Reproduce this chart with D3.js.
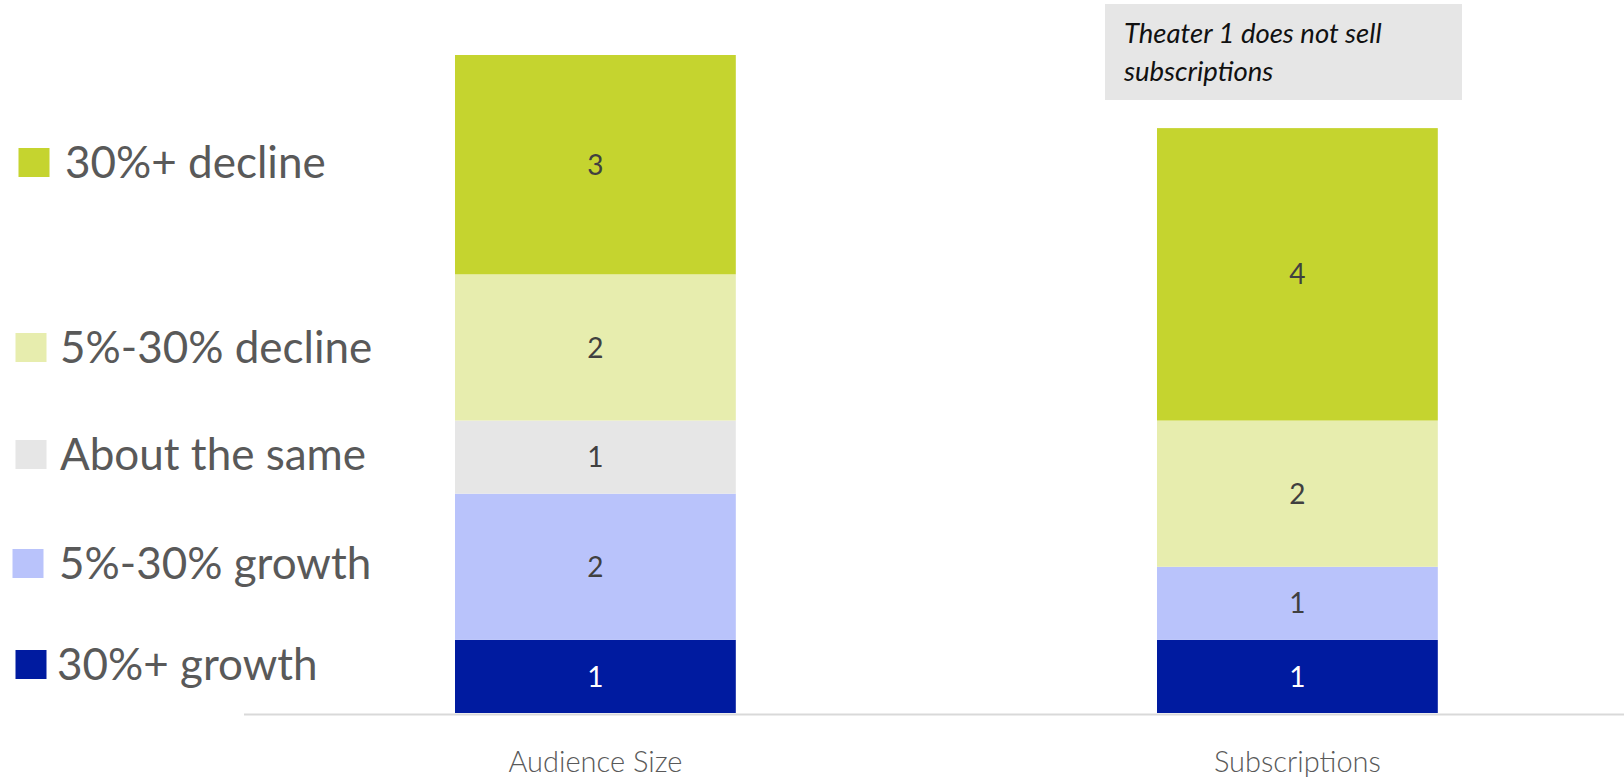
<!DOCTYPE html>
<html>
<head>
<meta charset="utf-8">
<script src="https://cdn.jsdelivr.net/npm/d3@7"></script>
<style>
  html, body { margin: 0; padding: 0; background: #fff; }
  svg { display: block; }
</style>
</head>
<body>
<svg id="chart" width="1624" height="780"></svg>
<script>
// Categories along the x axis
const categories = ["Audience Size", "Subscriptions"];

// Change buckets, stacked bottom to top
const buckets = ["30%+ growth", "5%-30% growth", "About the same", "5%-30% decline", "30%+ decline"];
const bucketColors = ["#001ba0", "#b9c3fb", "#e6e6e6", "#e7edae", "#c5d42f"];

// Number of theaters per bucket, one entry per category
const growth30 = [1, 1];
const growth5to30 = [2, 1];
const aboutSame = [1, 0];
const decline5to30 = [2, 2];
const decline30 = [3, 4];

const noteLines = ["Theater 1 does not sell", "subscriptions"];

const seriesValues = [growth30, growth5to30, aboutSame, decline5to30, decline30];
const rows = categories.map((c, i) => {
  const r = { category: c };
  buckets.forEach((b, k) => { r[b] = seriesValues[k][i]; });
  return r;
});

const svg = d3.select("#chart");

const x = d3.scaleBand()
  .domain(categories)
  .range([244.4, 1648.4])
  .paddingInner(0.6)
  .paddingOuter(0.3);

const y = d3.scaleLinear()
  .domain([0, 9])
  .range([713, 55]);

const stack = d3.stack().keys(buckets)(rows);

const layers = svg.append("g").selectAll("g")
  .data(stack)
  .join("g")
  .attr("fill", (d, i) => bucketColors[i]);

layers.selectAll("rect")
  .data(d => d)
  .join("rect")
  .attr("x", d => x(d.data.category))
  .attr("width", x.bandwidth())
  .attr("y", d => y(d[1]))
  .attr("height", d => y(d[0]) - y(d[1]));

// Value labels centred in each segment
stack.forEach((layer, i) => {
  svg.append("g").selectAll("text")
    .data(layer.filter(d => d[1] - d[0] > 0))
    .join("text")
    .attr("x", d => x(d.data.category) + x.bandwidth() / 2)
    .attr("y", d => (y(d[0]) + y(d[1])) / 2)
    .attr("dy", "0.36em")
    .attr("text-anchor", "middle")
    .attr("font-family", "Lato, 'Noto Sans', sans-serif")
    .attr("font-size", 28)
    .attr("fill", i === 0 ? "#ffffff" : "#404040")
    .text(d => d[1] - d[0]);
});

// Baseline
svg.append("line")
  .attr("x1", 244).attr("x2", 1624)
  .attr("y1", 714.5).attr("y2", 714.5)
  .attr("stroke", "#d9d9d9")
  .attr("stroke-width", 2);

// Category axis
const xAxis = svg.append("g")
  .attr("transform", "translate(0,714)")
  .call(d3.axisBottom(x).tickSize(0).tickPadding(0));
xAxis.select(".domain").remove();
xAxis.selectAll("text")
  .attr("y", 58)
  .attr("dy", 0)
  .attr("font-family", "Lato, 'Noto Sans', sans-serif")
  .attr("font-weight", 300)
  .attr("font-size", 29)
  .attr("fill", "#595959");

// Legend
const legendPos = [
  { sx: 15.5, sy: 650, tx: 57, cy: 664 },
  { sx: 12.5, sy: 549, tx: 59, cy: 563 },
  { sx: 15.5, sy: 440, tx: 60, cy: 454 },
  { sx: 15.5, sy: 333, tx: 60, cy: 347 },
  { sx: 18.5, sy: 148, tx: 65, cy: 162 }
];
const legend = svg.append("g").selectAll("g")
  .data(buckets)
  .join("g");
legend.append("rect")
  .attr("x", (d, i) => legendPos[i].sx)
  .attr("y", (d, i) => legendPos[i].sy)
  .attr("width", 31)
  .attr("height", 29)
  .attr("fill", (d, i) => bucketColors[i]);
legend.append("text")
  .attr("x", (d, i) => legendPos[i].tx)
  .attr("y", (d, i) => legendPos[i].cy)
  .attr("dy", "0.36em")
  .attr("font-family", "Lato, 'Noto Sans', sans-serif")
  .attr("font-size", 44)
  .attr("fill", "#595959")
  .text(d => d);

// Note box
const note = svg.append("g");
note.append("rect")
  .attr("x", 1105).attr("y", 4)
  .attr("width", 357).attr("height", 96)
  .attr("fill", "#e6e6e6");
note.append("text")
  .attr("font-family", "Lato, 'Noto Sans', sans-serif")
  .attr("font-style", "italic")
  .attr("font-size", 27.5)
  .attr("fill", "#111111")
  .selectAll("tspan")
  .data(noteLines)
  .join("tspan")
  .attr("x", 1124)
  .attr("y", (d, i) => 43 + i * 38)
  .text(d => d);
</script>
</body>
</html>
